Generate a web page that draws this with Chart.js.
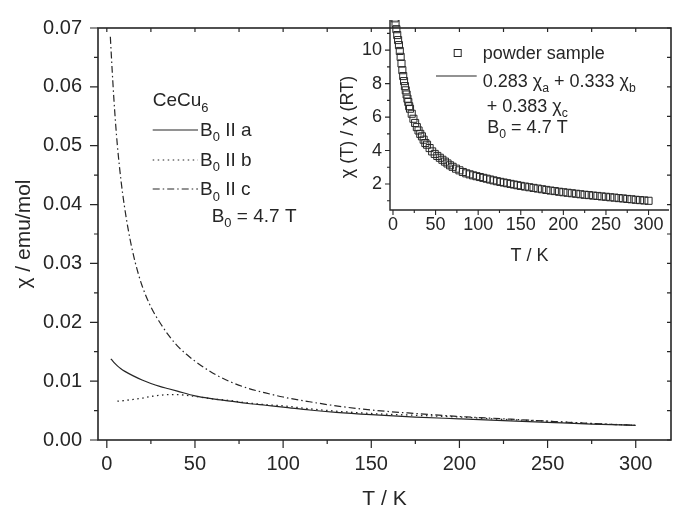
<!DOCTYPE html>
<html>
<head>
<meta charset="utf-8">
<title>CeCu6 susceptibility</title>
<script src="https://cdn.jsdelivr.net/npm/chart.js@4/dist/chart.umd.min.js"></script>
<style>
  html, body { margin: 0; padding: 0; background: #fff; }
  #wrap { position: relative; width: 675px; height: 508px; }
  #main { position: absolute; left: 0; top: 0; }
  #inset { position: absolute; left: 330px; top: 0; }
</style>
</head>
<body>
<div id="wrap">
  <canvas id="main" width="675" height="508"></canvas>
  <canvas id="inset" width="345" height="270"></canvas>
</div>
<script>
// ── Main plot data: chi(T) for B0 along a, b, c ───────────────────────────────
const tempA = [2.3, 4, 6, 8, 10, 15, 20, 25, 30, 35, 40, 50, 60, 70, 80, 90, 100, 115, 130, 150, 175, 200, 225, 250, 275, 300];
const chiA  = [0.0138, 0.0132, 0.0126, 0.0121, 0.0117, 0.0109, 0.0102, 0.0096, 0.0091, 0.0087, 0.0083, 0.0075, 0.0070, 0.0066,
               0.0062, 0.0059, 0.0056, 0.0051, 0.0047, 0.0043, 0.0039, 0.0036, 0.0033, 0.0030, 0.0027, 0.0025];

const tempB = [6, 10, 15, 20, 25, 30, 35, 40, 45, 50, 60, 70, 80, 90, 100, 115, 130, 150, 175, 200, 225, 250, 275, 300];
const chiB  = [0.0066, 0.0067, 0.0069, 0.0071, 0.0074, 0.0076, 0.0077, 0.0077, 0.0076, 0.0074, 0.0070, 0.0067, 0.0063, 0.0060,
               0.0058, 0.0053, 0.0049, 0.0045, 0.0042, 0.0039, 0.0035, 0.0032, 0.0028, 0.0025];

const tempC = [2, 3, 4, 5, 6, 8, 10, 12, 14, 16, 18, 20, 25, 30, 35, 40, 45, 50, 60, 70, 80, 90, 100, 115, 130, 150, 175,
               200, 225, 250, 275, 300];
const chiC  = [0.0685, 0.0630, 0.0580, 0.0537, 0.0500, 0.0442, 0.0397, 0.0360, 0.0329, 0.0303, 0.0281, 0.0262, 0.0226,
               0.0200, 0.0178, 0.0160, 0.0146, 0.0134, 0.0114, 0.0099, 0.0088, 0.0080, 0.0073, 0.0065, 0.0058, 0.0051,
               0.0045, 0.0040, 0.0036, 0.0032, 0.0028, 0.0025];

const xTicks = [0, 50, 100, 150, 200, 250, 300];
const xMinor = [25, 75, 125, 175, 225, 275];
const yTicks = [0, 0.01, 0.02, 0.03, 0.04, 0.05, 0.06, 0.07];
const yMinor = [0.005, 0.015, 0.025, 0.035, 0.045, 0.055, 0.065];

// ── Inset data: powder sample, chi(T)/chi(RT) ─────────────────────────────────
const tempPowder = [2, 3, 4, 5, 6, 7, 8, 9, 10, 11, 12, 13, 14, 15, 16, 17, 18, 19, 20, 22, 24, 26, 28, 30, 32, 34, 36, 38, 40,
                    43, 46, 49, 52, 55, 58, 61, 64, 67, 70, 74, 78, 82, 86, 90, 94, 98, 102, 106, 110, 114, 118, 122, 126,
                    130, 134, 138, 142, 146, 150, 155, 160, 165, 170, 175, 180, 185, 190, 195, 200, 205, 210, 215, 220,
                    225, 230, 235, 240, 245, 250, 255, 260, 265, 270, 275, 280, 285, 290, 295, 300];
const ratioPowder = [11.9, 11.6, 11.25, 10.9, 10.6, 10.3, 9.95, 9.6, 9.2, 8.8, 8.45, 8.15, 7.85, 7.6, 7.35, 7.1, 6.9, 6.65, 6.5,
                     6.2, 5.9, 5.65, 5.4, 5.2, 5.0, 4.85, 4.65, 4.45, 4.35, 4.15, 3.95, 3.8, 3.68, 3.57, 3.45, 3.34, 3.23,
                     3.12, 3.03, 2.92, 2.82, 2.72, 2.64, 2.58, 2.52, 2.47, 2.42, 2.37, 2.32, 2.27, 2.22, 2.17, 2.13, 2.09,
                     2.05, 2.01, 1.97, 1.93, 1.89, 1.85, 1.81, 1.77, 1.73, 1.69, 1.65, 1.61, 1.58, 1.54, 1.51, 1.48, 1.45,
                     1.42, 1.39, 1.36, 1.34, 1.31, 1.29, 1.26, 1.24, 1.21, 1.19, 1.16, 1.14, 1.11, 1.09, 1.06, 1.04, 1.02, 1.0];

const insetXTicks = [0, 50, 100, 150, 200, 250, 300];
const insetXMinor = [25, 75, 125, 175, 225, 275];
const insetYTicks = [2, 4, 6, 8, 10];
const insetYMinor = [1, 3, 5, 7, 9, 11];

// ── Styles ────────────────────────────────────────────────────────────────────
const INK = '#262626';
const FAMILY = "'Liberation Sans', Arial, Helvetica, sans-serif";
const DASH_B = [1.5, 3.5];
const DASH_C = [7, 3, 1.5, 3];

function pts(xs, ys) {
  return xs.map((x, i) => ({ x, y: ys[i] }));
}

// draws text pieces; sub pieces are smaller and lowered
function richText(ctx, x, base, parts, size) {
  parts.forEach(([txt, sub]) => {
    ctx.font = (sub ? size * 0.68 : size) + 'px ' + FAMILY;
    ctx.fillText(txt, x, sub ? base + size * 0.3 : base);
    x += ctx.measureText(txt).width;
  });
}

function legendLine(ctx, x1, x2, y, dash) {
  ctx.save();
  ctx.setLineDash(dash);
  ctx.lineWidth = 1.2;
  ctx.beginPath();
  ctx.moveTo(x1, y);
  ctx.lineTo(x2, y);
  ctx.stroke();
  ctx.restore();
}

function tickSet(ctx, scale, values, horiz, edge, len) {
  values.forEach(v => {
    const p = scale.getPixelForValue(v);
    if (horiz) { ctx.moveTo(p, edge); ctx.lineTo(p, edge + len); }
    else       { ctx.moveTo(edge, p); ctx.lineTo(edge + len, p); }
  });
}

// ── Main frame, ticks and legend ──────────────────────────────────────────────
const mainFrame = {
  id: 'mainFrame',
  afterDraw(chart) {
    const { ctx, chartArea: a, scales: { x, y } } = chart;
    ctx.save();
    ctx.strokeStyle = INK;
    ctx.fillStyle = INK;
    ctx.lineWidth = 1.6;
    ctx.strokeRect(a.left, a.top, a.right - a.left, a.bottom - a.top);

    ctx.lineWidth = 1.2;
    ctx.beginPath();
    tickSet(ctx, x, xTicks, true, a.bottom, 8);
    tickSet(ctx, x, xMinor, true, a.bottom, 4);
    tickSet(ctx, x, xTicks.concat(xMinor), true, a.top, 4);
    tickSet(ctx, y, yTicks, false, a.left, -8);
    tickSet(ctx, y, yMinor, false, a.left, -4);
    tickSet(ctx, y, yTicks.concat(yMinor), false, a.right, -4);
    ctx.stroke();

    // legend
    ctx.textAlign = 'left';
    ctx.textBaseline = 'alphabetic';
    richText(ctx, 152.7, 106, [['CeCu'], ['6', true]], 19);
    legendLine(ctx, 152.7, 198, 130, []);
    legendLine(ctx, 152.7, 198, 160, DASH_B);
    legendLine(ctx, 152.7, 198, 189, DASH_C);
    richText(ctx, 200, 135.5, [['B'], ['0', true], [' II a']], 19);
    richText(ctx, 200, 165.5, [['B'], ['0', true], [' II b']], 19);
    richText(ctx, 200, 195, [['B'], ['0', true], [' II c']], 19);
    richText(ctx, 211.7, 221.7, [['B'], ['0', true], [' = 4.7 T']], 19);
    ctx.restore();
  }
};

new Chart(document.getElementById('main'), {
  type: 'line',
  data: {
    datasets: [
      { label: 'B0 II a', data: pts(tempA, chiA), borderColor: INK, borderWidth: 1.2, pointRadius: 0,
        cubicInterpolationMode: 'monotone' },
      { label: 'B0 II b', data: pts(tempB, chiB), borderColor: INK, borderWidth: 1.3, pointRadius: 0,
        borderDash: DASH_B, cubicInterpolationMode: 'monotone' },
      { label: 'B0 II c', data: pts(tempC, chiC), borderColor: INK, borderWidth: 1.2, pointRadius: 0,
        borderDash: DASH_C, cubicInterpolationMode: 'monotone' }
    ]
  },
  options: {
    responsive: false,
    animation: false,
    layout: { padding: { top: 20, right: 4, left: 0, bottom: 0 } },
    plugins: { legend: { display: false }, tooltip: { enabled: false } },
    scales: {
      x: {
        type: 'linear', min: -5, max: 320,
        afterBuildTicks: s => { s.ticks = xTicks.map(v => ({ value: v })); },
        afterFit: s => { s.height = 68; },
        grid: { display: false, drawTicks: false },
        border: { display: false },
        ticks: { color: INK, font: { family: FAMILY, size: 20 }, padding: 12, maxRotation: 0, autoSkip: false },
        title: { display: true, text: 'T / K', color: INK, font: { family: FAMILY, size: 21, lineHeight: 1 },
                 padding: { top: 0, bottom: -2 } }
      },
      y: {
        type: 'linear', min: 0, max: 0.07,
        afterBuildTicks: s => { s.ticks = yTicks.map(v => ({ value: v })); },
        afterFit: s => { s.width = 98; },
        grid: { display: false, drawTicks: false },
        border: { display: false },
        ticks: { color: INK, font: { family: FAMILY, size: 20 }, padding: 16, autoSkip: false,
                 callback: v => v.toFixed(2) },
        title: { display: true, text: 'χ / emu/mol', color: INK, font: { family: FAMILY, size: 21, lineHeight: 1.2 },
                 padding: { top: 12, bottom: 0 } }
      }
    }
  },
  plugins: [mainFrame]
});

// ── Inset ─────────────────────────────────────────────────────────────────────
const insetFrame = {
  id: 'insetFrame',
  afterDraw(chart) {
    const { ctx, chartArea: a, scales: { x, y } } = chart;
    ctx.save();
    ctx.strokeStyle = INK;
    ctx.fillStyle = INK;
    ctx.lineWidth = 1.4;
    ctx.beginPath();
    ctx.moveTo(a.left, a.top);
    ctx.lineTo(a.left, a.bottom);
    ctx.lineTo(a.right, a.bottom);
    ctx.stroke();

    ctx.lineWidth = 1.1;
    ctx.beginPath();
    tickSet(ctx, x, insetXTicks, true, a.bottom, 5);
    tickSet(ctx, x, insetXMinor, true, a.bottom, 3);
    tickSet(ctx, y, insetYTicks, false, a.left, -5);
    tickSet(ctx, y, insetYMinor, false, a.left, -3);
    ctx.stroke();

    // y title sits a bit below the axis middle in the original
    ctx.save();
    ctx.translate(18, 127);
    ctx.rotate(-Math.PI / 2);
    ctx.font = '18px ' + FAMILY;
    ctx.textAlign = 'center';
    ctx.textBaseline = 'middle';
    ctx.fillText('χ (T) / χ (RT)', 0, 0);
    ctx.restore();

    // legend
    ctx.lineWidth = 1;
    ctx.strokeRect(124.2, 49.5, 7, 7);
    legendLine(ctx, 106, 146.7, 76, []);
    ctx.textAlign = 'left';
    ctx.textBaseline = 'alphabetic';
    richText(ctx, 152.7, 59, [['powder sample']], 18);
    richText(ctx, 152.7, 86.7, [['0.283 χ'], ['a', true], [' + 0.333 χ'], ['b', true]], 18);
    richText(ctx, 156.7, 111.7, [['+ 0.383 χ'], ['c', true]], 18);
    richText(ctx, 157.3, 133, [['B'], ['0', true], [' = 4.7 T']], 18);
    ctx.restore();
  }
};

new Chart(document.getElementById('inset'), {
  type: 'line',
  data: {
    datasets: [
      { label: 'powder sample', data: pts(tempPowder, ratioPowder), showLine: false,
        pointStyle: 'rect', pointRadius: 5, pointBorderWidth: 1, pointBorderColor: INK,
        pointBackgroundColor: 'rgba(0,0,0,0)' }
    ]
  },
  options: {
    responsive: false,
    animation: false,
    layout: { padding: { top: 20, right: 5, left: 0, bottom: 0 } },
    plugins: { legend: { display: false }, tooltip: { enabled: false } },
    scales: {
      x: {
        type: 'linear', min: -3.5, max: 324,
        afterBuildTicks: s => { s.ticks = insetXTicks.map(v => ({ value: v })); },
        afterFit: s => { s.height = 60; },
        grid: { display: false, drawTicks: false },
        border: { display: false },
        ticks: { color: INK, font: { family: FAMILY, size: 18 }, padding: 4, maxRotation: 0, autoSkip: false },
        title: { display: true, text: 'T / K', color: INK, font: { family: FAMILY, size: 18, lineHeight: 1 },
                 padding: { top: 0, bottom: 5 } }
      },
      y: {
        type: 'linear', min: 0.45, max: 11.8,
        afterBuildTicks: s => { s.ticks = insetYTicks.map(v => ({ value: v })); },
        afterFit: s => { s.width = 60; },
        grid: { display: false, drawTicks: false },
        border: { display: false },
        ticks: { color: INK, font: { family: FAMILY, size: 18 }, padding: 8, autoSkip: false },
        title: { display: false }
      }
    }
  },
  plugins: [insetFrame]
});
</script>
</body>
</html>
